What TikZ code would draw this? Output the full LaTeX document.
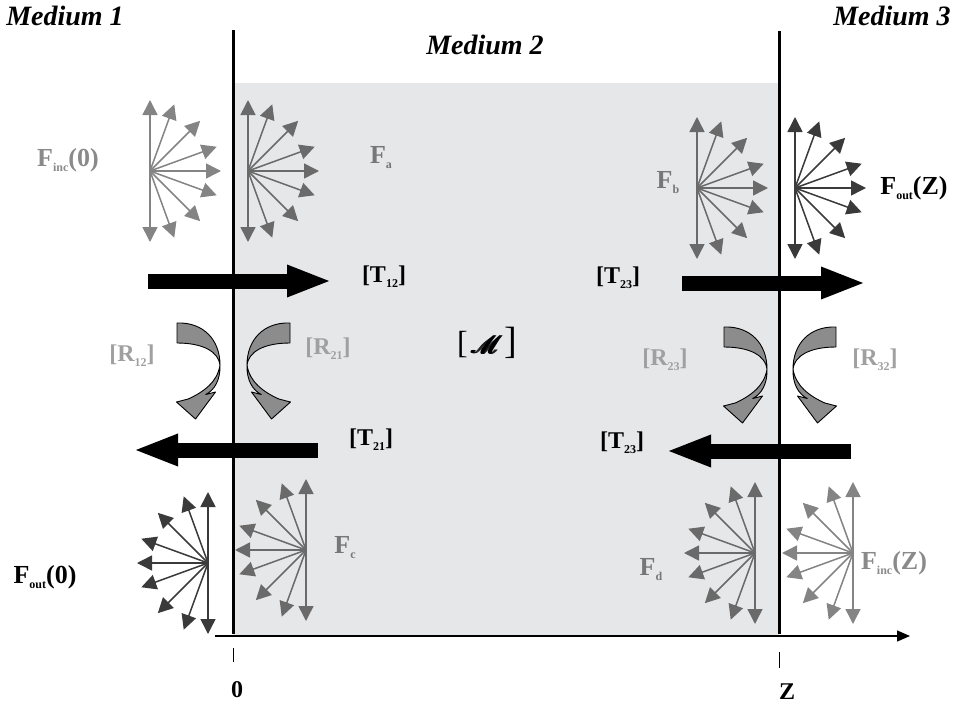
\documentclass[tikz,border=0pt]{standalone}
\usepackage{amsmath}
\usepackage{fontspec}
\setmainfont{Liberation Serif}
\usepackage{mathrsfs}
\usetikzlibrary{arrows.meta}
\definecolor{medgray}{HTML}{E6E7E8}
\definecolor{fanlight}{HTML}{848484}
\definecolor{fanmid}{HTML}{6A6A6A}
\definecolor{fandark}{HTML}{3A3A3A}
\definecolor{labinc}{HTML}{8A8A8A}
\definecolor{labmid}{HTML}{777777}
\definecolor{labR}{HTML}{A0A0A0}
\definecolor{cagray}{HTML}{8C8C8C}
\newcommand\lsub[1]{\raisebox{-5pt}{\fontsize{12}{12}\selectfont #1}}
\newcommand\fakebold[1]{\rlap{#1}\kern0.6pt\rlap{#1}\kern0.6pt\rlap{#1}\kern0.6pt\rlap{#1}\kern0.6pt#1}
\newcommand\fanright[2]{\foreach \a in {-90,-70,-45,-20,0,20,45,70,90}{\draw[ray,#2] (#1) -- ++(\a:71);}}
\newcommand\fanleft[2]{\foreach \a in {90,110,135,160,180,200,225,250,270}{\draw[ray,#2] (#1) -- ++(\a:71);}}
\tikzset{
  ray/.style={line width=1.5pt,-{Triangle[length=15pt,width=15pt]}},
  bigarrow/.style={line width=15pt,-{Triangle[length=45pt,width=29pt]}},
  wall/.style={line width=3pt,black},
  medlab/.style={font=\fontsize{28}{30}\selectfont\bfseries\itshape,inner sep=0pt},
  flab/.style={font=\fontsize{26}{28}\selectfont\bfseries,inner sep=0pt},
  tlab/.style={font=\fontsize{24}{26}\selectfont\bfseries,inner sep=0pt},
  pics/curv/.style={code={
    \filldraw[fill=cagray,draw=black,line width=0.9pt,line join=round] (-56.5,1) .. controls (-30,0) and (-13.5,18) .. (-13.5,43) .. controls (-15,30) and (-30,21) .. (-56.5,21) -- cycle;
    \filldraw[fill=cagray,draw=black,line width=0.9pt,line join=round] (-13.5,43) .. controls (-13,58) and (-19,68) .. (-27.75,72.5) -- (-18,70) -- (-38,97) -- (-57,80) -- (-45.3,77) .. controls (-30,70) and (-16,60) .. (-13.5,43) -- cycle;
  }}
}
\begin{document}
\begin{tikzpicture}[x=1pt,y=-1pt]
\useasboundingbox (0,0) rectangle (956,712);
% medium 2 region
\fill[medgray] (233,83) rectangle (779,636);
% axis
\coordinate (axs) at (215,636);
\coordinate (axe) at (910,636);
\draw[line width=1.2pt,-{Triangle[length=13pt,width=11pt]}] (axs) -- (axe);
\draw[line width=0.8pt] (233,648) -- (233,662);
\draw[line width=0.8pt] (779,652) -- (779,668);
\node[tlab] (zero) at (237,690) {0};
\node[tlab] (zed) at (787,692) {Z};
% fans
\coordinate (cA) at (150,171);
\coordinate (ca) at (248,171);
\coordinate (cb) at (697,188);
\coordinate (cZ) at (795,188);
\coordinate (cO) at (208,563);
\coordinate (cc) at (306,550);
\coordinate (cd) at (755,553);
\coordinate (cI) at (853,553);
\fanright{cA}{fanlight}
\fanright{ca}{fanmid}
\fanright{cb}{fanmid}
\fanright{cZ}{fandark}
\fanleft{cO}{fandark}
\fanleft{cc}{fanmid}
\fanleft{cd}{fanmid}
\fanleft{cI}{fanlight}
% big arrows
\coordinate (t12s) at (148,281); \coordinate (t12e) at (332,281);
\coordinate (t23s) at (682,283); \coordinate (t23e) at (866,283);
\coordinate (t21s) at (318,450); \coordinate (t21e) at (133,450);
\coordinate (t32s) at (851,451); \coordinate (t32e) at (666,451);
\draw[bigarrow] (t12s) -- (t12e);
\draw[bigarrow] (t23s) -- (t23e);
\draw[bigarrow] (t21s) -- (t21e);
\draw[bigarrow] (t32s) -- (t32e);
% walls
\coordinate (w1t) at (233,30); \coordinate (w1b) at (233,634);
\coordinate (w2t) at (779,31); \coordinate (w2b) at (779,634);
\draw[wall] (w1t) -- (w1b);
\draw[wall] (w2t) -- (w2b);
% curved arrows
\pic at (233.5,322) {curv};
\pic[xscale=-1] at (233.5,322) {curv};
\pic at (780.5,326) {curv};
\pic[xscale=-1] at (779.5,326) {curv};
% labels
\node[medlab] (m1) at (65,16) {Medium 1};
\node[medlab] (m2) at (485,45) {Medium 2};
\node[medlab] (m3) at (892,16) {Medium 3};
\node[flab,text=labinc] (finc0) at (68,160) {F\lsub{inc}(0)};
\node[flab,text=labmid] (fa) at (381,158) {F\lsub{a}};
\node[flab,text=labmid] (fb) at (668,183) {F\lsub{b}};
\node[flab] (foutZ) at (914,188) {F\lsub{out}(Z)};
\node[flab] (fout0) at (45,577) {F\lsub{out}(0)};
\node[flab,text=labmid] (fc) at (345,548) {F\lsub{c}};
\node[flab,text=labmid] (fd) at (651,570) {F\lsub{d}};
\node[flab,text=labinc] (fincZ) at (894,563) {F\lsub{inc}(Z)};
\node[tlab] (T12) at (384,277) {[T\lsub{12}]};
\node[tlab] (T23a) at (618,278) {[T\lsub{23}]};
\node[tlab] (T21) at (371,440) {[T\lsub{21}]};
\node[tlab] (T23b) at (622,443) {[T\lsub{23}]};
\node[tlab,text=labR] (R12) at (132,356) {[R\lsub{12}]};
\node[tlab,text=labR] (R21) at (328,349) {[R\lsub{21}]};
\node[tlab,text=labR] (R23) at (665,360) {[R\lsub{23}]};
\node[tlab,text=labR] (R32) at (875,360) {[R\lsub{32}]};
\node[inner sep=0pt] (M) at (487,343) {\fontsize{32}{34}\selectfont [\kern2pt\fakebold{\fontsize{38}{40}\selectfont$\mathscr{M}$}\kern1pt]};
\end{tikzpicture}
\end{document}
